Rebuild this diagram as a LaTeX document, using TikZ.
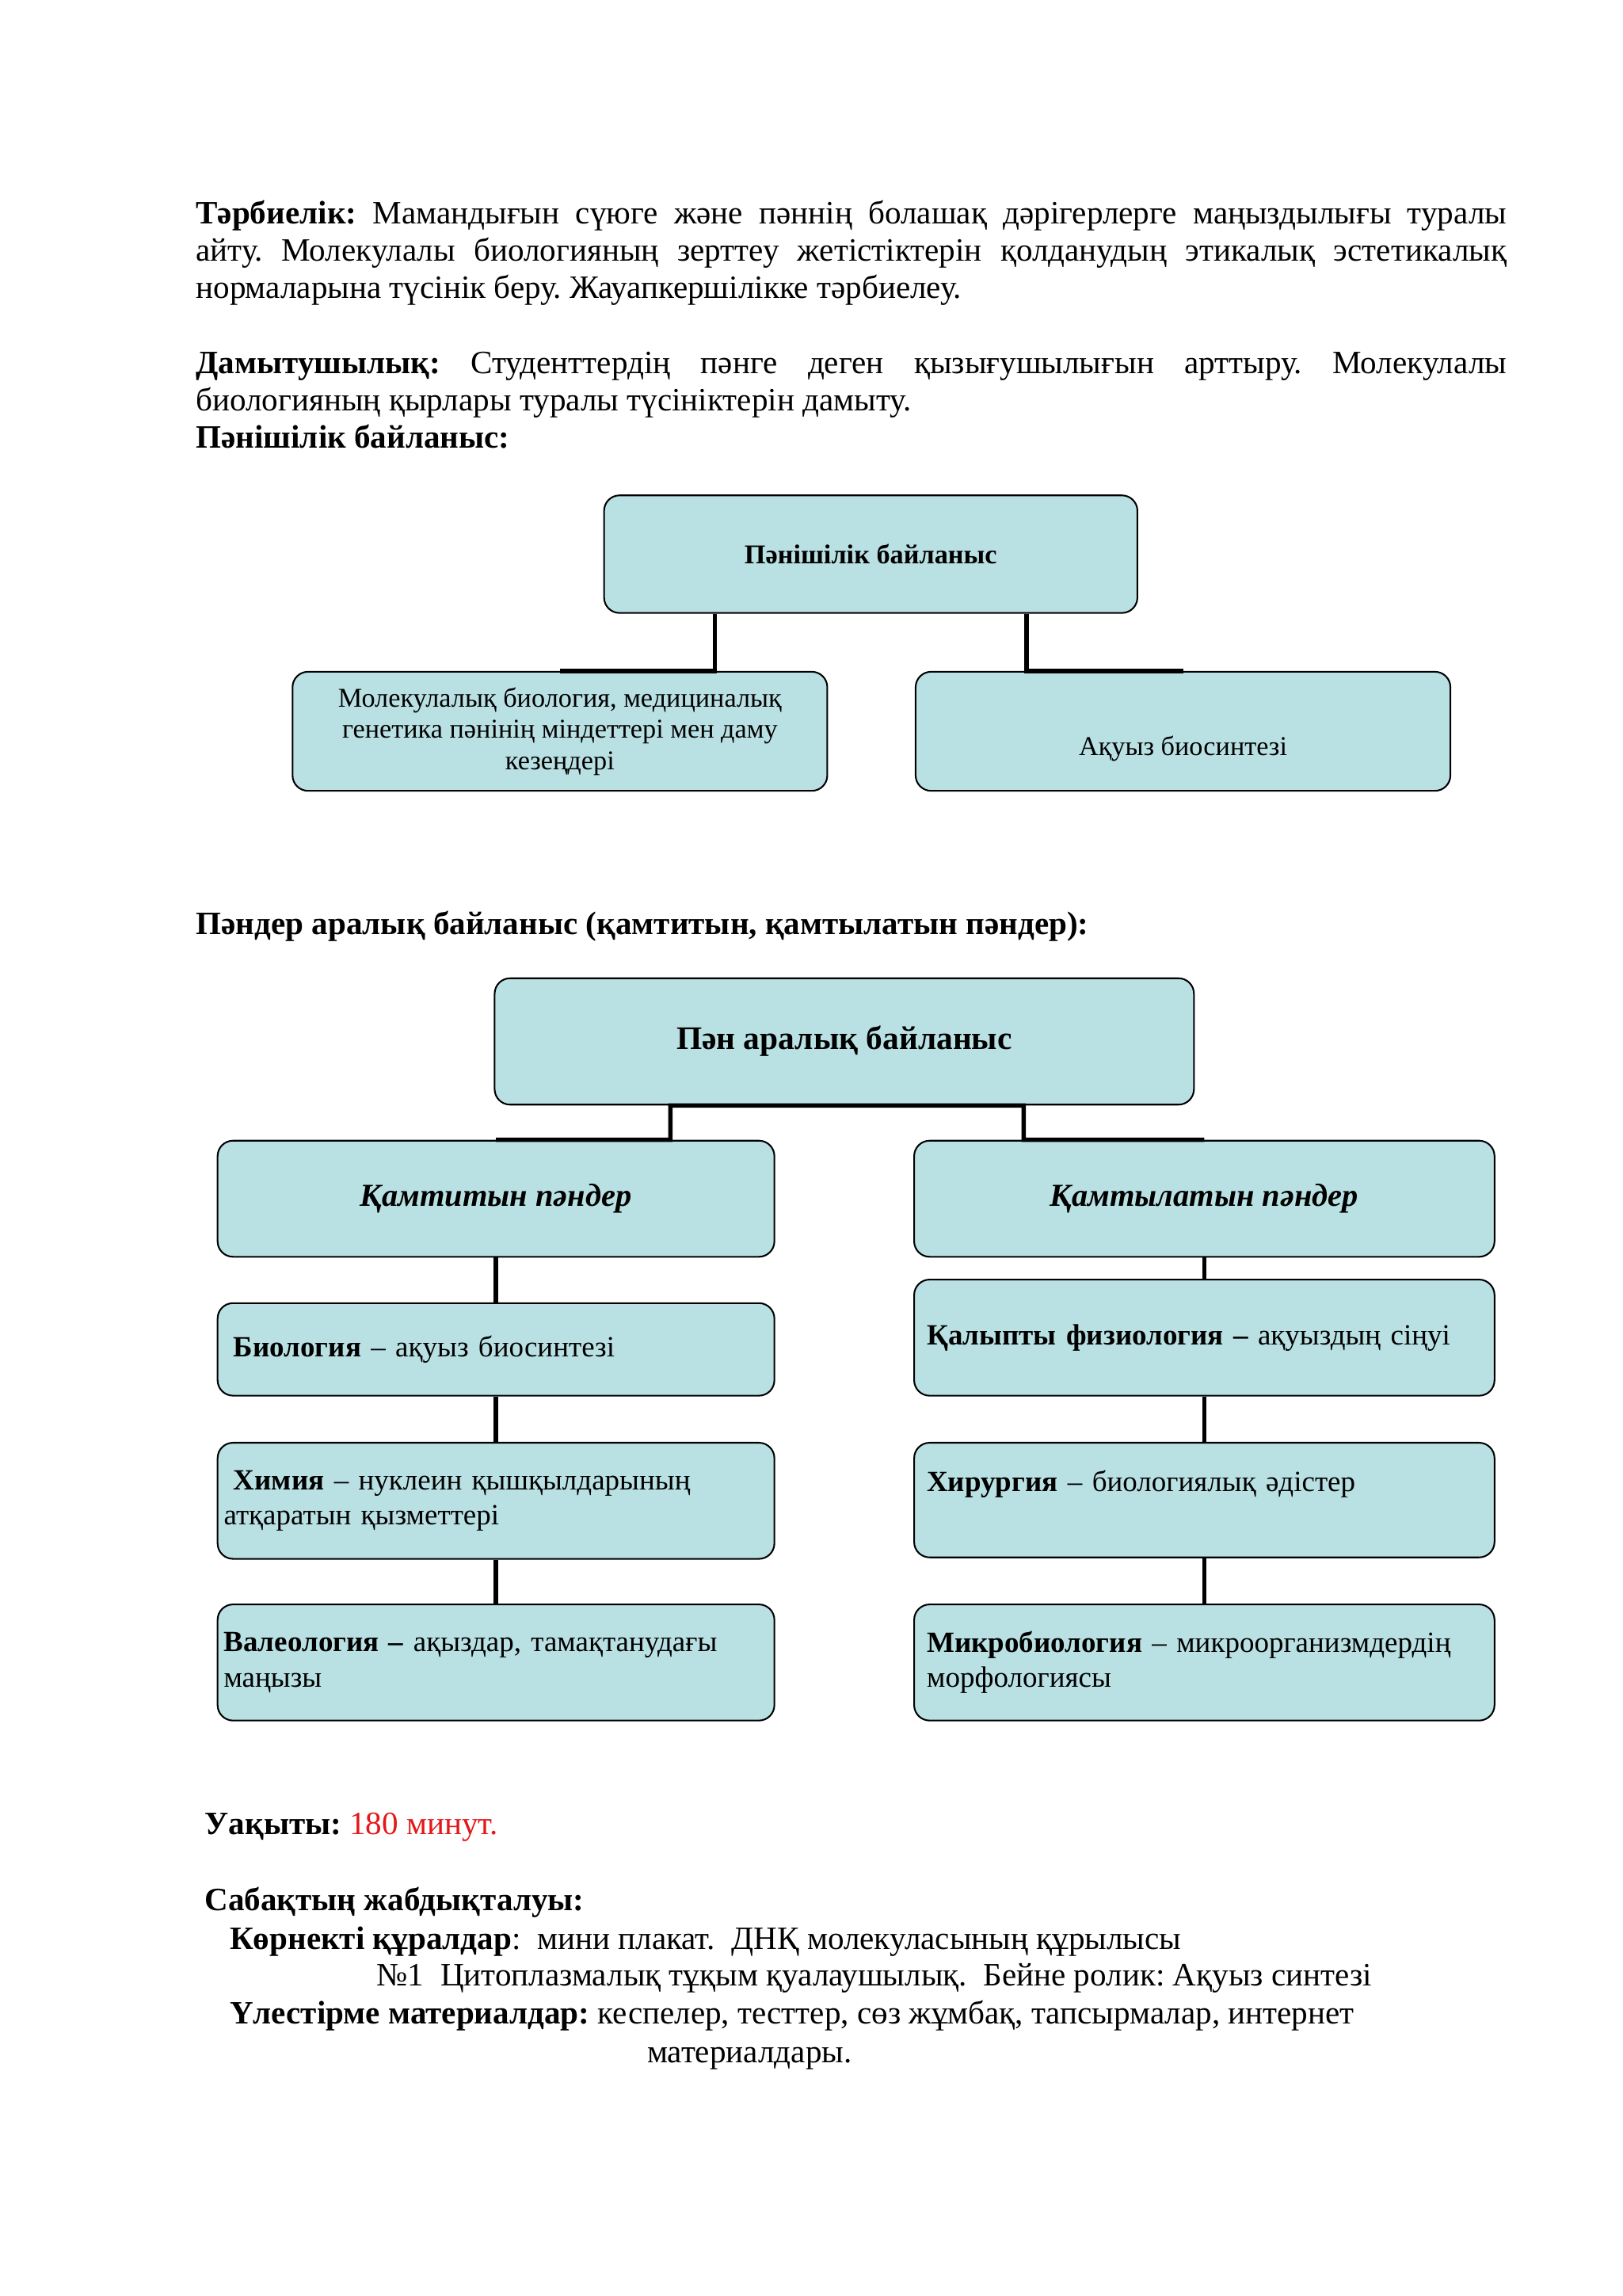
\documentclass[tikz,border=0pt]{standalone}
\usepackage{fontspec}
\setmainfont{Liberation Serif}
\usetikzlibrary{calc}
\definecolor{boxfill}{RGB}{185,224,227}
\definecolor{redtext}{RGB}{228,24,24}
\frenchspacing

\begin{document}
\begin{tikzpicture}[x=0.019022cm, y=-0.019022cm,
	box/.style = {draw, fill=boxfill, rounded corners=0.2cm, line width=0.6pt, inner sep=0pt, align=center},
	lbox/.style = {box, align=left, inner xsep=0.08cm, text width=7.049cm, minimum width=7.209cm, font=\fontsize{10.8}{12.9}\selectfont},
	rbox/.style = {box, align=left, inner xsep=0.165cm, text width=7.184cm, minimum width=7.514cm, font=\fontsize{10.8}{12.9}\selectfont},
	conn/.style = {line width=1.6pt},
	body/.style = {anchor=base west, inner sep=0pt, font=\fontsize{12}{13.75}\selectfont}]
	\useasboundingbox (0,0) rectangle (1104,1562);

	\node [body, text width=16.97cm, align=justify] (tarb) at (133,152) {\textbf{Тәрбиелік:} Мамандығын сүюге және пәннің болашақ дәрігерлерге маңыздылығы туралы\linebreak айту. Молекулалы биологияның зерттеу жетістіктерін қолданудың этикалық эстетикалық\linebreak нормаларына түсінік беру. Жауапкершілікке тәрбиелеу.};
	\node [body, text width=16.97cm, align=justify] (damyt) at (133,254) {\textbf{Дамытушылық:} Студенттердің пәнге деген қызығушылығын арттыру. Молекулалы\linebreak биологияның қырлары туралы түсініктерін дамыту.\\ \textbf{Пәнішілік байланыс:}};

	\node [box, minimum width=6.905cm, minimum height=1.522cm, font=\fontsize{10}{12}\selectfont\bfseries] (pT) at (592.5,377) {Пәнішілік байланыс};
	\node [box, minimum width=6.924cm, minimum height=1.541cm, font=\fontsize{10}{11.5}\selectfont] (pL) at (381,497.5) {Молекулалық биология, медициналық\\генетика пәнінің міндеттері мен даму\\кезеңдері};
	\node [box, minimum width=6.924cm, minimum height=1.541cm, font=\fontsize{10}{11.5}\selectfont, text height=0.7cm, text depth=0.08cm] (pR) at (805,497.5) {Ақуыз биосинтезі};
	\draw [conn] (pL.north) -| ($(pT.south west)!0.209!(pT.south east)$);
	\draw [conn] (pR.north) -| ($(pT.south west)!0.791!(pT.south east)$);

	\node [body] (pandr) at (133,636) {\textbf{Пәндер аралық байланыс (қамтитын, қамтылатын пәндер):}};
	\node [box, minimum width=9.054cm, minimum height=1.636cm, font=\fontsize{12.1}{14}\selectfont\bfseries] (aT) at (574.5,708.5) {Пән аралық байланыс};
	\node [box, minimum width=7.209cm, minimum height=1.503cm, font=\fontsize{11.8}{14}\selectfont\bfseries\itshape] (aL) at (337.5,815.5) {Қамтитын пәндер};
	\node [box, minimum width=7.514cm, minimum height=1.503cm, font=\fontsize{11.8}{14}\selectfont\bfseries\itshape] (aR) at (819.5,815.5) {Қамтылатын пәндер};

	\node [lbox, minimum height=1.198cm] (bio) at (337.5,918) {\ \textbf{Биология} – ақуыз биосинтезі};
	\node [lbox, minimum height=1.503cm] (him) at (337.5,1021) {\ \textbf{Химия} – нуклеин қышқылдарының\\атқаратын қызметтері};
	\node [lbox, minimum height=1.503cm] (val) at (337.5,1131) {\textbf{Валеология –} ақыздар, тамақтанудағы\\маңызы};
	\node [rbox, minimum height=1.503cm] (fiz) at (819.5,910) {\textbf{Қалыпты физиология –} ақуыздың сіңуі};
	\node [rbox, minimum height=1.484cm, text depth=0.5cm] (hir) at (819.5,1020.5) {\textbf{Хирургия} – биологиялық әдістер};
	\node [rbox, minimum height=1.503cm] (mik) at (819.5,1131) {\textbf{Микробиология} – микроорганизмдердің\\морфологиясы};

	\draw [conn] (aL.north) -| ($(aT.south west)!0.252!(aT.south east)$) -- (aT.south);
	\draw [conn] (aR.north) -| ($(aT.south west)!0.756!(aT.south east)$) -- (aT.south);
	\draw [conn] (aL) -- (bio) (bio) -- (him) (him) -- (val);
	\draw [conn] (aR) -- (fiz) (fiz) -- (hir) (hir) -- (mik);

	\node [body] (uak) at (139,1248) {\textbf{Уақыты:} \textcolor{redtext}{180 минут.}};
	\node [body] (sab) at (139,1300) {\textbf{Сабақтың жабдықталуы:}};
	\node [body] (korn) at (156,1326) {\textbf{Көрнекті құралдар}:\ \ мини плакат.\ \ ДНҚ молекуласының құрылысы};
	\node [body] (nom) at (256,1351) {№1\ \ Цитоплазмалық тұқым қуалаушылық.\ \ Бейне ролик: Ақуыз синтезі};
	\node [body] (ules) at (156,1377) {\textbf{Үлестірме материалдар:} кеспелер, тесттер, сөз жұмбақ, тапсырмалар, интернет};
	\node [body] (mater) at (440,1403) {материалдары.};
\end{tikzpicture}
\end{document}
